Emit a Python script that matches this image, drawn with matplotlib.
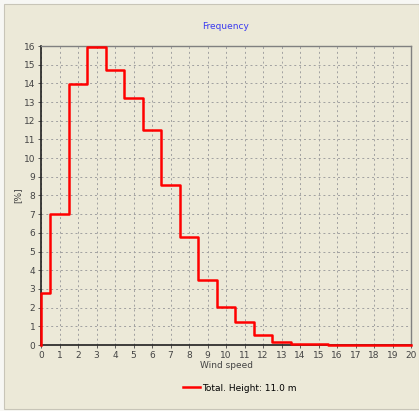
import numpy as np
import matplotlib.pyplot as plt
from matplotlib.patches import Rectangle

# bin edges (wind speed, m/s) and frequency per bin (%)
edges = [0, 0.5, 1.5, 2.5, 3.5, 4.5, 5.5, 6.5, 7.5, 8.5, 9.5, 10.5,
         11.5, 12.5, 13.5, 14.5, 15.5, 16.5, 17.5, 20]
freq = [2.78, 7.0, 13.95, 15.95, 14.7, 13.2, 11.5, 8.55, 5.8, 3.48, 2.03,
        1.23, 0.56, 0.18, 0.08, 0.04, 0.0, 0.02, 0.0]
series_label = 'Total. Height: 11.0 m'

BG = '#ECE9D8'

fig = plt.figure(figsize=(4.19, 4.11), dpi=100)
fig.patch.set_facecolor('#F7F7F4')
fig.patches.append(Rectangle((4 / 419, 2 / 411), 415 / 419, 405 / 411,
                             transform=fig.transFigure, facecolor=BG,
                             edgecolor='#C8C5B8', linewidth=0.8, zorder=-10))

ax = fig.add_axes([41 / 419, 66 / 411, 370 / 419, 299 / 411])
ax.set_facecolor(BG)

xs = np.array(edges)
ys = np.concatenate([[0.0], freq, [freq[-1]]])
ax.step(np.concatenate([[0.0], xs]), ys, where='post', color='#FF0000',
        linewidth=1.8, label=series_label, zorder=3, clip_on=False)

ax.set_xlim(0, 20)
ax.set_ylim(0, 16)
ax.set_xticks(range(0, 21))
ax.set_yticks(range(0, 17))
ax.grid(True, color='#A0A0A0', linestyle=(0, (2, 3)), linewidth=0.7)
ax.tick_params(labelsize=6.5, length=2, width=0.6, colors='#444444', pad=2)

for s in ['left', 'bottom']:
    ax.spines[s].set_color('#202020')
    ax.spines[s].set_linewidth(1.2)
for s in ['top', 'right']:
    ax.spines[s].set_color('#808080')
    ax.spines[s].set_linewidth(1.0)

ax.set_title('Frequency', color='#3A3AF0', fontsize=6.5, pad=12)
ax.set_xlabel('Wind speed', fontsize=6.5, color='#444444', labelpad=1)
ax.set_ylabel('[%]', fontsize=6.5, color='#444444', labelpad=1)

fig.legend(loc='center', bbox_to_anchor=(240 / 419, 23 / 411), frameon=False,
           fontsize=6.5, handlelength=1.8, handletextpad=0.3)

fig.savefig('out.png', dpi=100, facecolor=fig.get_facecolor())
